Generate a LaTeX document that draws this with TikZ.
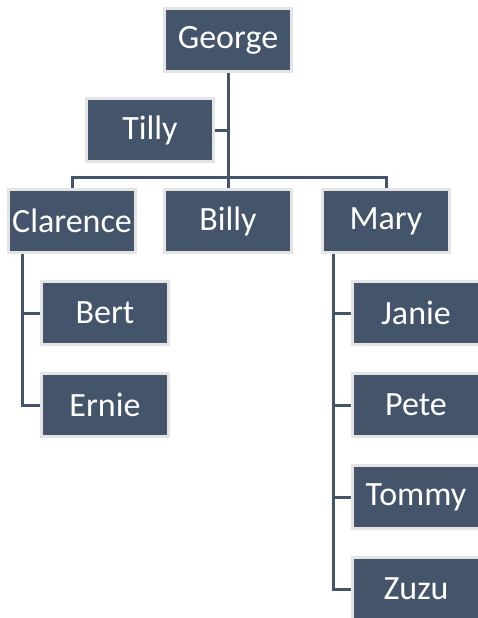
\documentclass[tikz,border=0pt]{standalone}
\usepackage{fontspec}
\setmainfont{Carlito}
\definecolor{boxfill}{HTML}{44546A}
\definecolor{boxedge}{HTML}{E4E4E4}
\begin{document}
\begin{tikzpicture}[x=1pt,y=-1pt,
  person/.style={draw=boxedge, line width=3pt, fill=boxfill, text=white,
    minimum width=127pt, minimum height=63pt, inner sep=0pt,
    font=\fontsize{34}{40}\selectfont},
  link/.style={draw=boxfill, line width=3pt}]
\useasboundingbox (0,0) rectangle (477,618);
\node[person] (george) at (228,40) {George};
\node[person] (tilly) at (150,130) {Tilly};
\node[person] (clarence) at (72,221) {Clarence};
\node[person] (billy) at (228,221) {Billy};
\node[person] (mary) at (386,221) {Mary};
\node[person] (bert) at (105,313) {Bert};
\node[person] (ernie) at (105,405) {Ernie};
\node[person] (janie) at (416,313) {Janie};
\node[person] (pete) at (416,405) {Pete};
\node[person] (tommy) at (416,497) {Tommy};
\node[person] (zuzu) at (416,589) {Zuzu};
\coordinate (bar) at (228,177);
\draw[link] (george.south) -- (bar);
\draw[link] (tilly.east) -- (tilly.east -| bar);
\draw[link] (billy.north) -- (bar);
\draw[link] (clarence.north) |- (bar) -| (mary.north);
\draw[link] ([xshift=-50pt]clarence.south) |- (ernie.west);
\draw[link] ([xshift=-50pt]clarence.south) |- (bert.west);
\draw[link] ([xshift=-53pt]mary.south) |- (zuzu.west);
\draw[link] ([xshift=-53pt]mary.south) |- (janie.west);
\draw[link] ([xshift=-53pt]mary.south) |- (pete.west);
\draw[link] ([xshift=-53pt]mary.south) |- (tommy.west);
\end{tikzpicture}
\end{document}
